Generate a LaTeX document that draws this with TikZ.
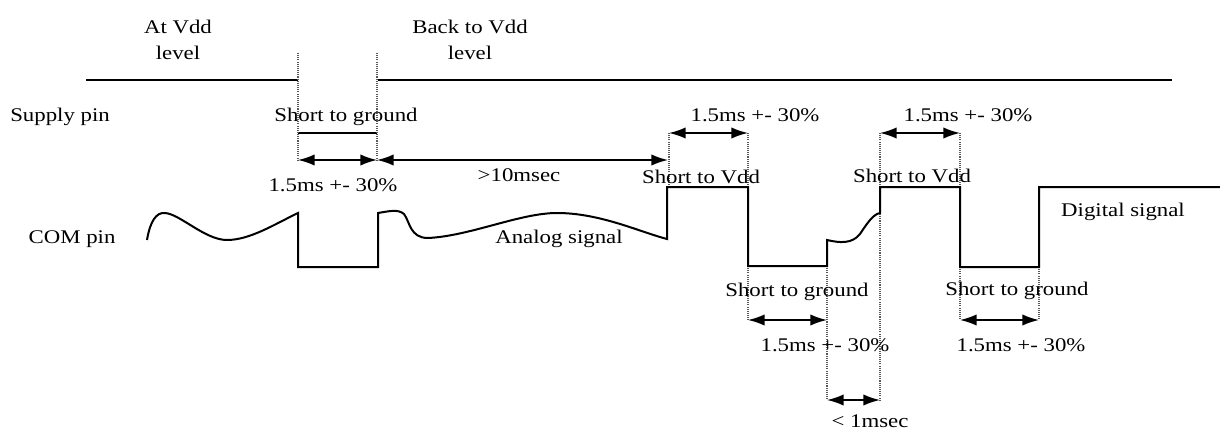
\documentclass[tikz,border=0pt]{standalone}
\usepackage{fontspec}
\setmainfont{Liberation Serif}[FakeStretch=1.18]
\usetikzlibrary{arrows.meta}
\begin{document}
\begin{tikzpicture}[x=0.75pt,y=-0.75pt,
  lbl/.style={inner sep=0pt,font=\fontsize{14.5}{19}\selectfont,align=center},
  sig/.style={line width=1.5pt,line join=miter},
  dim/.style={line width=1.2pt,{Latex[length=12.5pt,width=8.5pt]}-{Latex[length=12.5pt,width=8.5pt]}},
  guide/.style={line width=0.8pt,gray!70!black,dash pattern=on 0.8pt off 0.8pt}]
\useasboundingbox (0,0) rectangle (1220,431);
% supply pin line
\draw[sig] (86,80) -- (298,80);
\draw[sig] (378,80) -- (1172,80);
\draw[sig] (298,133) -- (377,133);
% guides
\draw[guide] (298,53) -- (298,160);
\draw[guide] (377,53) -- (377,160);
\draw[guide] (669,133) -- (669,187);
\draw[guide] (748,133) -- (748,187);
\draw[guide] (748,266) -- (748,320);
\draw[guide] (827,266) -- (827,400);
\draw[guide] (880,133) -- (880,400);
\draw[guide] (960,133) -- (960,187);
\draw[guide] (960,267) -- (960,320);
\draw[guide] (1039,267) -- (1039,320);
% COM signal
\draw[sig] (147,240) .. controls (150,222) and (156,212) .. (165,213)
  .. controls (180,214) and (205,240) .. (227,240)
  .. controls (250,240) and (275,224) .. (298,213)
  -- (298,267) -- (378,267) -- (378,213)
  .. controls (390,211) and (398,209) .. (404,214)
  .. controls (410,222) and (410,238) .. (428,238)
  .. controls (470,236) and (520,213) .. (557,213)
  .. controls (600,213) and (640,232) .. (667,239)
  -- (667,187) -- (748,187) -- (748,266) -- (827,266) -- (827,240)
  .. controls (840,243) and (852,244) .. (860,234)
  .. controls (866,225) and (873,214) .. (880,213)
  -- (880,187) -- (960,187) -- (960,267) -- (1039,267) -- (1039,187) -- (1220,187);
% dimension coordinates
\coordinate (a1) at (298,160); \coordinate (a2) at (377,160); \coordinate (a3) at (668,160);
\coordinate (b1) at (669,133); \coordinate (b2) at (748,133);
\coordinate (c1) at (748,320); \coordinate (c2) at (827,320);
\coordinate (d1) at (827,400); \coordinate (d2) at (880,400);
\coordinate (e1) at (880,133); \coordinate (e2) at (960,133);
\coordinate (f1) at (960,320); \coordinate (f2) at (1039,320);
\draw[dim] (a1) -- (a2);
\draw[dim] (a2) -- (a3);
\draw[dim] (b1) -- (b2);
\draw[dim] (c1) -- (c2);
\draw[dim] (d1) -- (d2);
\draw[dim] (e1) -- (e2);
\draw[dim] (f1) -- (f2);
% labels
\node[lbl] (atvdd) at (178,40) {At Vdd\\level};
\node[lbl] (backvdd) at (470,40) {Back to Vdd\\level};
\node[lbl,anchor=west] (supply) at (10,117) {Supply pin};
\node[lbl] (com) at (72,239) {COM pin};
\node[lbl] (stg1) at (346,117) {Short to ground};
\node[lbl] (t1) at (333,185) {1.5ms +- 30\%};
\node[lbl] (t10) at (519,175) {>10msec};
\node[lbl] (stv1) at (701,177) {Short to Vdd};
\node[lbl] (t2) at (755,115) {1.5ms +- 30\%};
\node[lbl] (analog) at (559,239) {Analog signal};
\node[lbl] (stg2) at (797,292) {Short to ground};
\node[lbl] (t3) at (825,345) {1.5ms +- 30\%};
\node[lbl] (t1ms) at (870,421) {< 1msec};
\node[lbl] (stv2) at (912,176) {Short to Vdd};
\node[lbl] (t4) at (968,115) {1.5ms +- 30\%};
\node[lbl] (digital) at (1123,212) {Digital signal};
\node[lbl] (stg3) at (1017,291) {Short to ground};
\node[lbl] (t5) at (1021,345) {1.5ms +- 30\%};
\end{tikzpicture}
\end{document}
